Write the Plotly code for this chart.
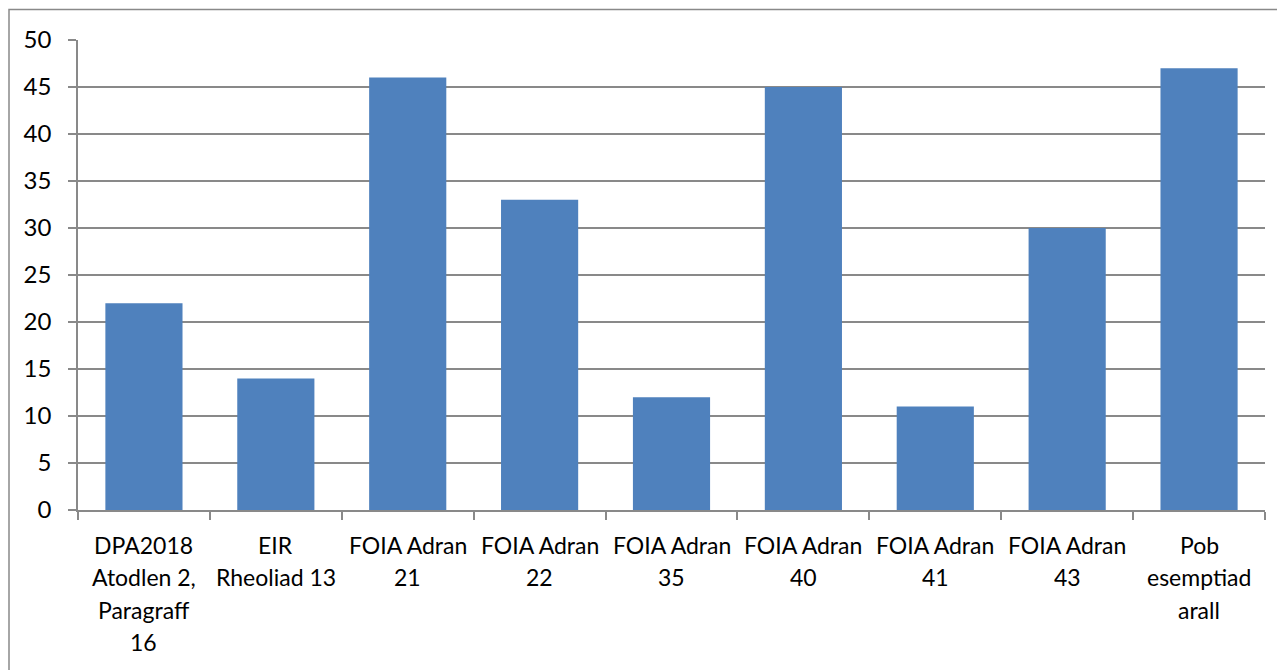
import plotly.graph_objects as go

categories = [
    "DPA2018 Atodlen 2, Paragraff 16",
    "EIR Rheoliad 13",
    "FOIA Adran 21",
    "FOIA Adran 22",
    "FOIA Adran 35",
    "FOIA Adran 40",
    "FOIA Adran 41",
    "FOIA Adran 43",
    "Pob esemptiad arall",
]
tick_lines = [
    ["DPA2018", "Atodlen 2,", "Paragraff", "16"],
    ["EIR", "Rheoliad 13"],
    ["FOIA Adran", "21"],
    ["FOIA Adran", "22"],
    ["FOIA Adran", "35"],
    ["FOIA Adran", "40"],
    ["FOIA Adran", "41"],
    ["FOIA Adran", "43"],
    ["Pob", "esemptiad", "arall"],
]
values = [22, 14, 46, 33, 12, 45, 11, 30, 47]
y_ticks = [0, 5, 10, 15, 20, 25, 30, 35, 40, 45, 50]

W, H = 1285, 670
OFF = 8  # page body offset
ML, MR, MT, MB = 78 - OFF, 20 + OFF, 39.5 - OFF, 159.5 + OFF
GRAY = "#898989"
FONT = dict(family="Lato, 'Open Sans', sans-serif", size=23, color="#000000")
YFONT = dict(family="Lato, 'Open Sans', sans-serif", size=24, color="#000000")

fig = go.Figure(go.Bar(x=categories, y=values, marker=dict(color="#4F81BD", line=dict(width=0))))

annotations = []
for cat, lines in zip(categories, tick_lines):
    for i, ln in enumerate(lines):
        annotations.append(dict(
            x=cat, y=0, xref="x", yref="y", text=ln, showarrow=False,
            xanchor="center", yanchor="top", yshift=-(19 + i * 32.3), font=FONT,
        ))

pw = W - ML - MR
ph = H - MT - MB
bx, by = 9 - OFF, 9 - OFF
xl = (bx - ML) / pw
xr = (W - 1 - OFF - ML) / pw
yt = (H - MB - by) / ph
yb = (H - MB - (H - OFF + 5)) / ph
border = dict(
    type="path", xref="paper", yref="paper", layer="below",
    path=f"M {xl} {yb} L {xl} {yt} L {xr} {yt}",
    line=dict(color=GRAY, width=1.5),
)

fig.update_layout(
    width=W, height=H,
    margin=dict(l=ML, r=MR, t=MT, b=MB, pad=0),
    paper_bgcolor="white", plot_bgcolor="white",
    bargap=0.415, showlegend=False, font=FONT,
    annotations=annotations, shapes=[border],
    xaxis=dict(
        type="category", showticklabels=False, showline=True, linecolor=GRAY, linewidth=1.5,
        ticks="outside", tickson="boundaries", ticklen=8, tickcolor=GRAY, tickwidth=1.5,
        showgrid=False, zeroline=False, fixedrange=True,
    ),
    yaxis=dict(
        range=[0, 50], tickvals=y_ticks, ticktext=[str(v) for v in y_ticks],
        showline=True, linecolor=GRAY, linewidth=1.5,
        ticks="outside", ticklen=8, tickcolor=GRAY, tickwidth=1.5,
        showgrid=True, gridcolor=GRAY, gridwidth=1.5, zeroline=False,
        ticklabelstandoff=12, tickfont=YFONT, fixedrange=True,
    ),
)

fig.write_html("out.html")
